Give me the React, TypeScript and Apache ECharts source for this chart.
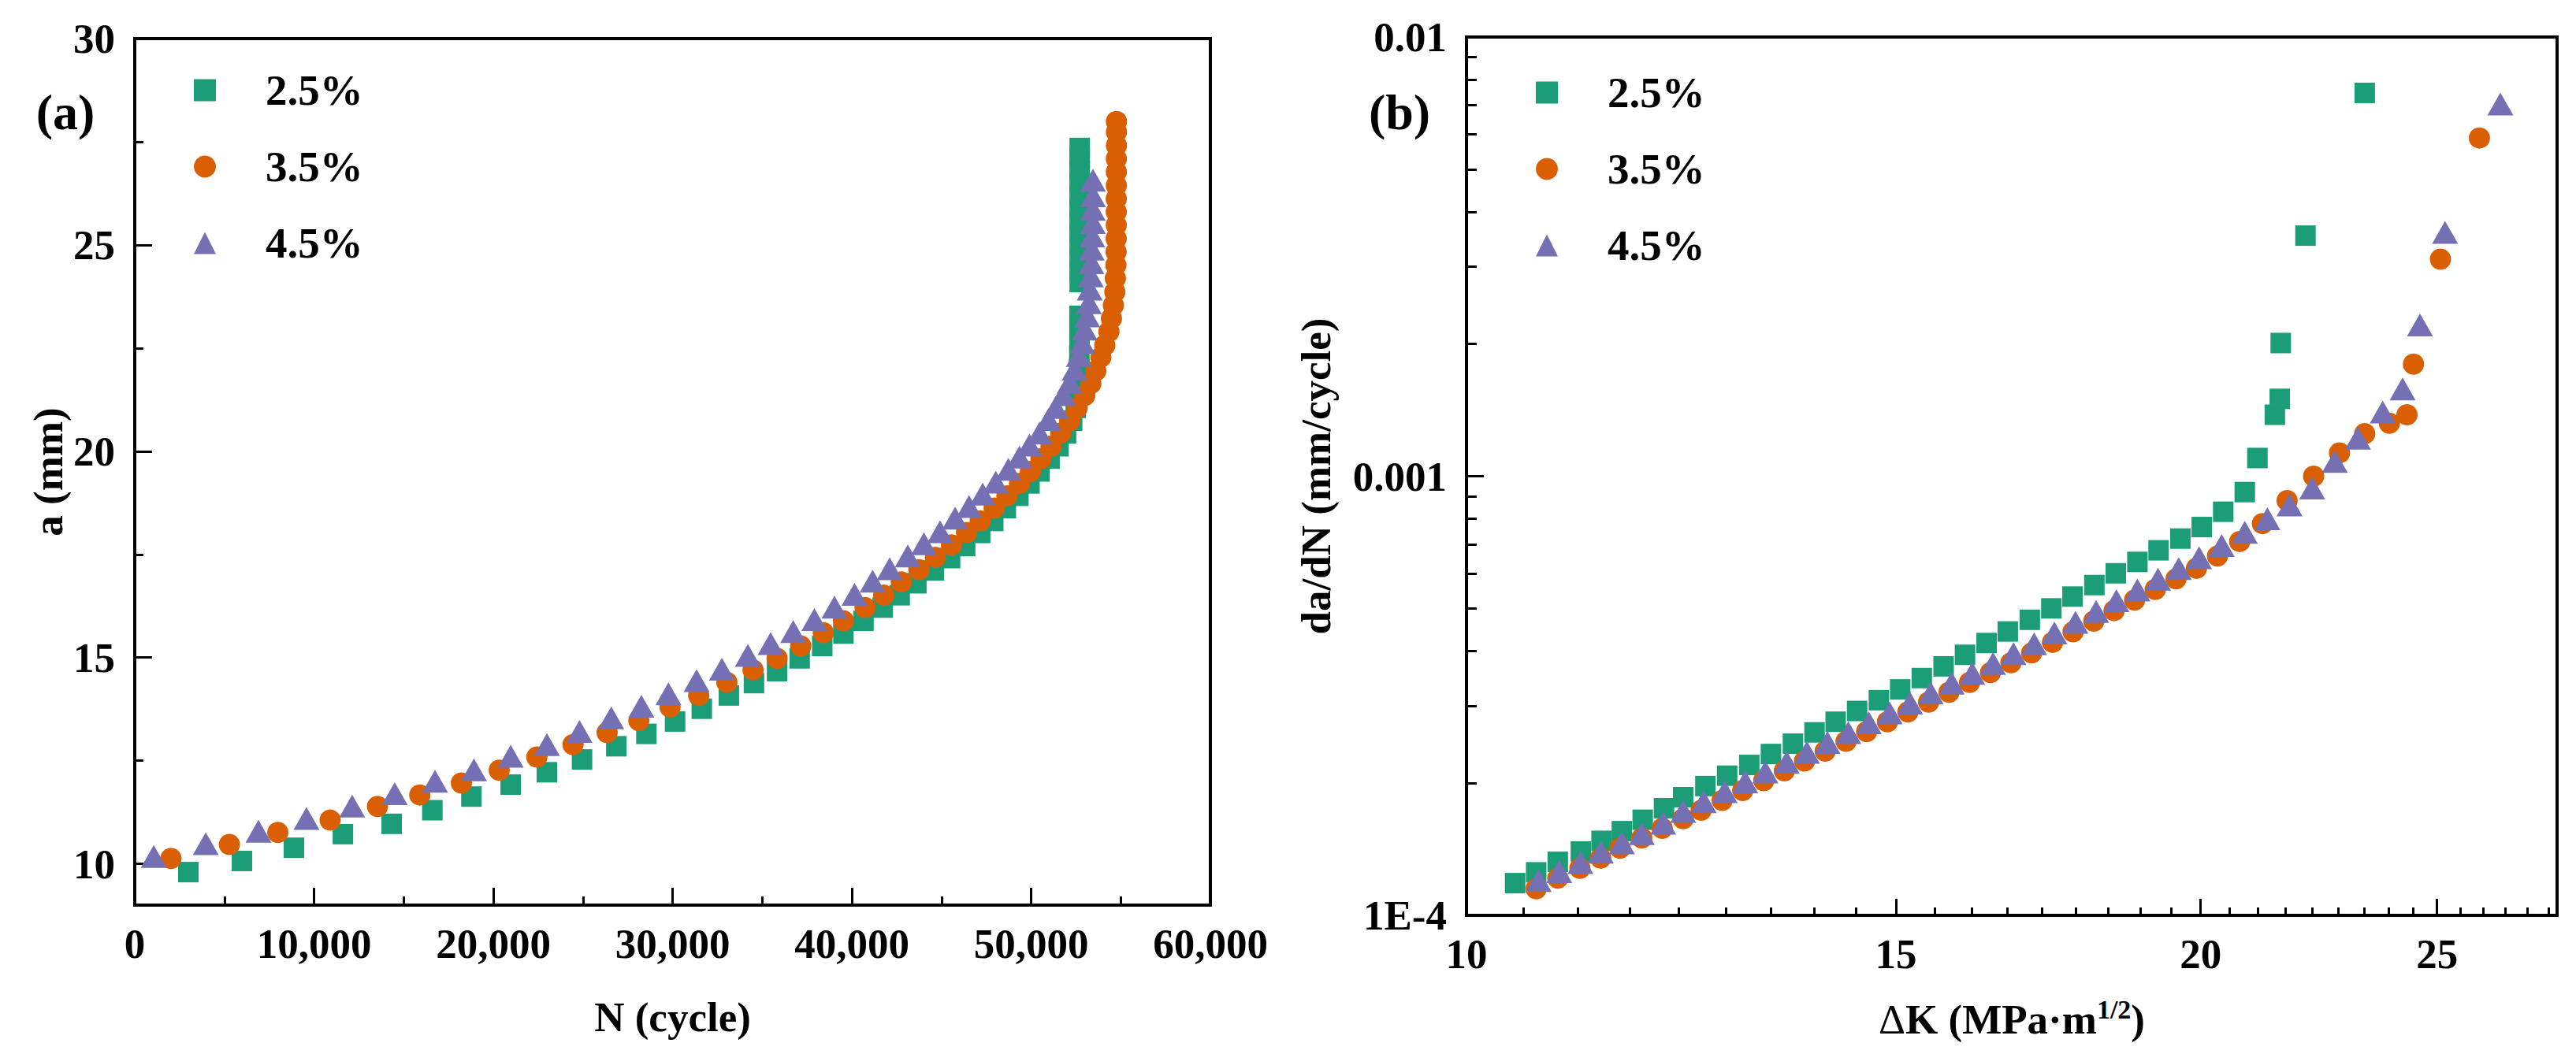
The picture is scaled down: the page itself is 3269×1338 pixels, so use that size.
import React, { useEffect, useRef } from 'react';
import * as echarts from 'echarts';

const COLORS = ['#1b9e77', '#d95f02', '#7570b3'];
const seriesNames = ['2.5%', '3.5%', '4.5%'];
const symbols = ['rect', 'circle', 'triangle'];
const symbolSizes: (number | number[])[] = [26, 27, [33, 29]];

// (a) crack length a (mm) vs. cycles N
const crack25 = [
  [2990, 9.8], [5980, 10.07], [8880, 10.39], [11610, 10.72], [14330, 10.97], [16600, 11.3],
  [18780, 11.63], [20970, 11.92], [22990, 12.22], [24950, 12.53], [26860, 12.85], [28540, 13.15],
  [30140, 13.45], [31630, 13.76], [33140, 14.08], [34540, 14.38], [35830, 14.67], [37090, 14.98],
  [38350, 15.28], [39530, 15.58], [40650, 15.89], [41720, 16.21], [42670, 16.51], [43600, 16.8],
  [44580, 17.11], [45480, 17.41], [46320, 17.7], [47160, 18.02], [47890, 18.31], [48590, 18.62],
  [49290, 18.92], [49910, 19.22], [50470, 19.51], [51030, 19.82], [51530, 20.12], [51950, 20.43],
  [52290, 20.74], [52490, 21.05], [52600, 21.35], [52650, 21.67], [52680, 21.99], [52690, 22.31],
  [52700, 22.64], [52700, 22.96], [52700, 23.28], [52710, 24.1], [52710, 24.4], [52710, 24.7],
  [52710, 25.0], [52710, 25.3], [52710, 25.6], [52710, 25.9], [52710, 26.2], [52710, 26.5],
  [52710, 26.8], [52710, 27.1], [52710, 27.35],
];
const crack35 = [
  [2020, 10.13], [5280, 10.47], [7980, 10.76], [10900, 11.06], [13540, 11.39], [15900, 11.67],
  [18220, 11.96], [20330, 12.27], [22430, 12.59], [24450, 12.89], [26350, 13.18], [28120, 13.47],
  [29860, 13.8], [31460, 14.08], [33030, 14.4], [34490, 14.7], [35830, 14.98], [37150, 15.28],
  [38410, 15.6], [39530, 15.89], [40740, 16.21], [41780, 16.51], [42760, 16.83], [43740, 17.13],
  [44660, 17.43], [45560, 17.73], [46400, 18.03], [47160, 18.31], [47940, 18.62], [48650, 18.92],
  [49350, 19.22], [49960, 19.51], [50550, 19.82], [51110, 20.12], [51650, 20.44], [52150, 20.74],
  [52570, 21.05], [52990, 21.35], [53330, 21.64], [53610, 21.95], [53890, 22.28], [54110, 22.57],
  [54340, 22.9], [54480, 23.22], [54590, 23.54], [54670, 23.86], [54700, 24.19], [54730, 24.51],
  [54740, 24.83], [54745, 25.15], [54750, 25.48], [54750, 25.8], [54750, 26.12], [54755, 26.44],
  [54755, 26.77], [54755, 27.09], [54760, 27.41], [54760, 27.74], [54760, 27.99],
];
const crack45 = [
  [1060, 10.18], [3960, 10.49], [6900, 10.79], [9580, 11.1], [12130, 11.4], [14500, 11.7],
  [16750, 12.0], [18920, 12.28], [20970, 12.61], [22990, 12.89], [24810, 13.21], [26580, 13.54],
  [28260, 13.82], [29770, 14.12], [31340, 14.44], [32750, 14.72], [34200, 15.05], [35470, 15.34],
  [36730, 15.63], [37910, 15.92], [39030, 16.22], [40150, 16.53], [41160, 16.85], [42110, 17.15],
  [43120, 17.46], [44020, 17.76], [44920, 18.05], [45760, 18.38], [46540, 18.66], [47300, 18.96],
  [48030, 19.25], [48730, 19.56], [49350, 19.86], [49910, 20.15], [50470, 20.44], [50970, 20.77],
  [51370, 21.06], [51790, 21.37], [52150, 21.67], [52430, 21.99], [52660, 22.32], [52850, 22.64],
  [52990, 22.96], [53130, 23.28], [53220, 23.6], [53270, 23.93], [53330, 24.25], [53360, 24.57],
  [53380, 24.9], [53410, 25.22], [53440, 25.54], [53440, 25.86], [53450, 26.19], [53450, 26.57],
];

// (b) da/dN (mm/cycle) vs. ΔK (MPa·m^1/2)
const rate25 = [
  [10.47, 1.184e-4], [10.68, 1.253e-4], [10.9, 1.324e-4], [11.14, 1.398e-4], [11.36, 1.478e-4],
  [11.58, 1.555e-4], [11.81, 1.651e-4], [12.05, 1.754e-4], [12.27, 1.858e-4], [12.53, 1.97e-4],
  [12.79, 2.08e-4], [13.06, 2.2e-4], [13.33, 2.33e-4], [13.61, 2.46e-4], [13.89, 2.61e-4],
  [14.17, 2.76e-4], [14.46, 2.92e-4], [14.76, 3.09e-4], [15.06, 3.27e-4], [15.37, 3.47e-4],
  [15.69, 3.69e-4], [16.01, 3.92e-4], [16.34, 4.17e-4], [16.67, 4.43e-4], [17.02, 4.71e-4],
  [17.37, 5.0e-4], [17.72, 5.32e-4], [18.09, 5.65e-4], [18.46, 6.01e-4], [18.84, 6.38e-4],
  [19.22, 6.78e-4], [19.62, 7.21e-4], [20.02, 7.66e-4], [20.43, 8.3e-4], [20.85, 9.2e-4],
  [21.1, 1.1e-3], [21.45, 1.38e-3], [21.55, 1.5e-3], [21.57, 2.01e-3], [22.08, 3.53e-3],
  [23.35, 7.46e-3],
];
const rate35 = [
  [10.68, 1.149e-4], [10.9, 1.215e-4], [11.13, 1.28e-4], [11.35, 1.35e-4], [11.56, 1.422e-4],
  [11.8, 1.5e-4], [12.03, 1.578e-4], [12.27, 1.66e-4], [12.48, 1.735e-4], [12.73, 1.827e-4],
  [12.98, 1.924e-4], [13.24, 2.026e-4], [13.5, 2.133e-4], [13.76, 2.246e-4], [14.03, 2.365e-4],
  [14.31, 2.49e-4], [14.59, 2.621e-4], [14.88, 2.76e-4], [15.17, 2.906e-4], [15.47, 3.06e-4],
  [15.77, 3.222e-4], [16.08, 3.392e-4], [16.4, 3.571e-4], [16.72, 3.76e-4], [17.05, 3.959e-4],
  [17.39, 4.185e-4], [17.73, 4.423e-4], [18.08, 4.676e-4], [18.43, 4.942e-4], [18.79, 5.224e-4],
  [19.16, 5.522e-4], [19.54, 5.837e-4], [19.92, 6.17e-4], [20.32, 6.58e-4], [20.75, 7.1e-4],
  [21.2, 7.8e-4], [21.7, 8.8e-4], [22.25, 1.0e-3], [22.8, 1.13e-3], [23.35, 1.25e-3],
  [23.9, 1.32e-3], [24.3, 1.38e-3], [24.45, 1.8e-3], [25.08, 3.12e-3], [26.02, 5.89e-3],
];
const rate45 = [
  [10.705, 1.2e-4], [10.915, 1.257e-4], [11.135, 1.319e-4], [11.353, 1.393e-4], [11.58, 1.462e-4],
  [11.8, 1.535e-4], [12.04, 1.621e-4], [12.27, 1.725e-4], [12.51, 1.815e-4], [12.76, 1.912e-4],
  [13.01, 2.013e-4], [13.26, 2.12e-4], [13.53, 2.233e-4], [13.79, 2.351e-4], [14.06, 2.476e-4],
  [14.34, 2.608e-4], [14.62, 2.746e-4], [14.91, 2.892e-4], [15.2, 3.045e-4], [15.5, 3.207e-4],
  [15.81, 3.377e-4], [16.12, 3.557e-4], [16.44, 3.746e-4], [16.76, 3.945e-4], [17.09, 4.154e-4],
  [17.42, 4.395e-4], [17.77, 4.65e-4], [18.12, 4.92e-4], [18.47, 5.205e-4], [18.84, 5.507e-4],
  [19.21, 5.826e-4], [19.59, 6.164e-4], [19.97, 6.522e-4], [20.4, 6.95e-4], [20.85, 7.45e-4],
  [21.3, 8.0e-4], [21.75, 8.6e-4], [22.22, 9.4e-4], [22.7, 1.08e-3], [23.2, 1.22e-3],
  [23.75, 1.4e-3], [24.2, 1.58e-3], [24.6, 2.21e-3], [25.19, 3.59e-3], [26.54, 7.04e-3],
];

// tick positions
const aMajor = [10, 15, 20, 25, 30];
const aMinor = [12.5, 17.5, 22.5, 27.5];
const dkMajor = [10, 15, 20, 25];
const dkMinor = [
  10.556, 11.111, 11.667, 12.222, 12.778, 13.333, 13.889, 14.444,
  15.556, 16.111, 16.667, 17.222, 17.778, 18.333, 18.889, 19.444,
  20.556, 21.111, 21.667, 22.222, 22.778, 23.333, 23.889, 24.444,
  25.556, 26.111, 26.667, 27.222, 27.778,
];
const rateMinor = [
  2e-4, 3e-4, 4e-4, 5e-4, 6e-4, 7e-4, 8e-4, 9e-4,
  2e-3, 3e-3, 4e-3, 5e-3, 6e-3, 7e-3, 8e-3, 9e-3,
];

const FONT = "'Times New Roman', 'Liberation Serif', serif";
const txt = { color: '#000', fontFamily: FONT, fontWeight: 'bold' as const };
const axisLine = { show: true, onZero: false, lineStyle: { color: '#000', width: 4 } };
const tickLine = { color: '#000', width: 3 };

const App: React.FC = () => {
  const chartRef = useRef<HTMLDivElement | null>(null);

  useEffect(() => {
    document.body.style.margin = '0';
    if (!chartRef.current) return;
    const chart = echarts.init(chartRef.current, undefined, { renderer: 'svg' });

    const minorAxis = (gridIndex: number, type: string, min: number, max: number, pos: string, values: number[], len: number) => ({
      gridIndex,
      type,
      min,
      max,
      position: pos,
      axisLine: { show: false },
      axisTick: { show: true, inside: true, length: len, customValues: values, lineStyle: tickLine },
      axisLabel: { show: false },
      splitLine: { show: false },
    });

    const legendData = seriesNames.map((n, i) => ({ name: n, icon: symbols[i] }));
    const legendBase = {
      data: legendData,
      orient: 'vertical',
      itemWidth: 28,
      itemHeight: 28,
      itemGap: 42,
      selectedMode: false,
      textStyle: { ...txt, fontSize: 55, lineHeight: 28, padding: [0, 0, 0, 58] },
    };

    const leftSets = [crack25, crack35, crack45];
    const rightSets = [rate25, rate35, rate45];

    const option = {
      animation: false,
      backgroundColor: '#fff',
      textStyle: { fontFamily: FONT },
      grid: [
        { left: 171, top: 49, width: 1365, height: 1100, show: true, borderColor: '#000', borderWidth: 4, outerBoundsMode: 'none' },
        { left: 1861, top: 47, width: 1384, height: 1115, show: true, borderColor: '#000', borderWidth: 4, outerBoundsMode: 'none' },
      ],
      legend: [
        { ...legendBase, left: 241, top: 82 },
        { ...legendBase, left: 1944, top: 85 },
      ],
      xAxis: [
        {
          gridIndex: 0,
          type: 'value',
          min: 0,
          max: 60000,
          interval: 10000,
          position: 'bottom',
          axisLine,
          axisTick: { show: true, inside: true, length: 22, lineStyle: tickLine },
          minorTick: { show: true, splitNumber: 2, length: 11, lineStyle: tickLine },
          splitLine: { show: false },
          minorSplitLine: { show: false },
          axisLabel: { ...txt, fontSize: 53, margin: 22, formatter: (v: number) => v.toLocaleString('en-US') },
          name: 'N (cycle)',
          nameLocation: 'middle',
          nameGap: 115,
          nameTextStyle: { ...txt, fontSize: 53 },
        },
        {
          gridIndex: 1,
          type: 'log',
          logBase: 10,
          min: 10,
          max: 28,
          position: 'bottom',
          axisLine,
          axisTick: { show: true, inside: true, length: 21, customValues: dkMajor, lineStyle: tickLine },
          splitLine: { show: false },
          axisLabel: { ...txt, fontSize: 53, margin: 22, customValues: dkMajor, formatter: (v: number) => String(Math.round(v)) },
          name: '{d|Δ}{n|K (MPa·m}{s|1/2}{n|)}',
          nameLocation: 'middle',
          nameGap: 102,
          nameTextStyle: {
            ...txt,
            fontSize: 53,
            rich: {
              d: { color: '#000', fontFamily: FONT, fontWeight: 'normal', fontSize: 53, lineHeight: 60 },
              n: { ...txt, fontSize: 53, lineHeight: 60 },
              s: { ...txt, fontSize: 34, lineHeight: 34, verticalAlign: 'top' },
            },
          },
        },
        minorAxis(1, 'log', 10, 28, 'bottom', dkMinor, 10),
      ],
      yAxis: [
        {
          gridIndex: 0,
          type: 'value',
          min: 9,
          max: 30,
          position: 'left',
          axisLine,
          axisTick: { show: true, inside: true, length: 22, customValues: aMajor, lineStyle: tickLine },
          splitLine: { show: false },
          axisLabel: { ...txt, fontSize: 53, margin: 25, customValues: aMajor },
          name: 'a (mm)',
          nameLocation: 'middle',
          nameGap: 84,
          nameTextStyle: { ...txt, fontSize: 53 },
        },
        minorAxis(0, 'value', 9, 30, 'left', aMinor, 11),
        {
          gridIndex: 1,
          type: 'log',
          logBase: 10,
          min: 0.0001,
          max: 0.01,
          position: 'left',
          axisLine,
          axisTick: { show: true, inside: true, length: 22, lineStyle: tickLine },
          splitLine: { show: false },
          axisLabel: {
            ...txt,
            fontSize: 53,
            margin: 25,
            formatter: (v: number) => (v < 3e-4 ? '1E-4' : v < 3e-3 ? '0.001' : '0.01'),
          },
          name: 'da/dN (mm/cycle)',
          nameLocation: 'middle',
          nameGap: 165,
          nameTextStyle: { ...txt, fontSize: 53 },
        },
        minorAxis(1, 'log', 0.0001, 0.01, 'left', rateMinor, 13),
      ],
      graphic: [
        { type: 'text', x: 83, y: 142, style: { text: '(a)', fill: '#000', font: `bold 64px ${FONT}`, align: 'center', verticalAlign: 'middle', textAlign: 'center', textVerticalAlign: 'middle' } },
        { type: 'text', x: 1776, y: 142, style: { text: '(b)', fill: '#000', font: `bold 64px ${FONT}`, align: 'center', verticalAlign: 'middle', textAlign: 'center', textVerticalAlign: 'middle' } },
      ],
      series: [
        ...leftSets.map((d, i) => ({
          type: 'scatter',
          name: seriesNames[i],
          xAxisIndex: 0,
          yAxisIndex: 0,
          data: d,
          symbol: symbols[i],
          symbolSize: symbolSizes[i],
          itemStyle: { color: COLORS[i], opacity: 1 },
          silent: true,
          z: 2 + i,
        })),
        ...rightSets.map((d, i) => ({
          type: 'scatter',
          name: seriesNames[i],
          xAxisIndex: 1,
          yAxisIndex: 2,
          data: d,
          symbol: symbols[i],
          symbolSize: symbolSizes[i],
          itemStyle: { color: COLORS[i], opacity: 1 },
          silent: true,
          z: 2 + i,
        })),
      ],
    };

    chart.setOption(option as any);
    return () => {
      chart.dispose();
    };
  }, []);

  return <div ref={chartRef} style={{ width: 3269, height: 1338 }} />;
};

export default App;
